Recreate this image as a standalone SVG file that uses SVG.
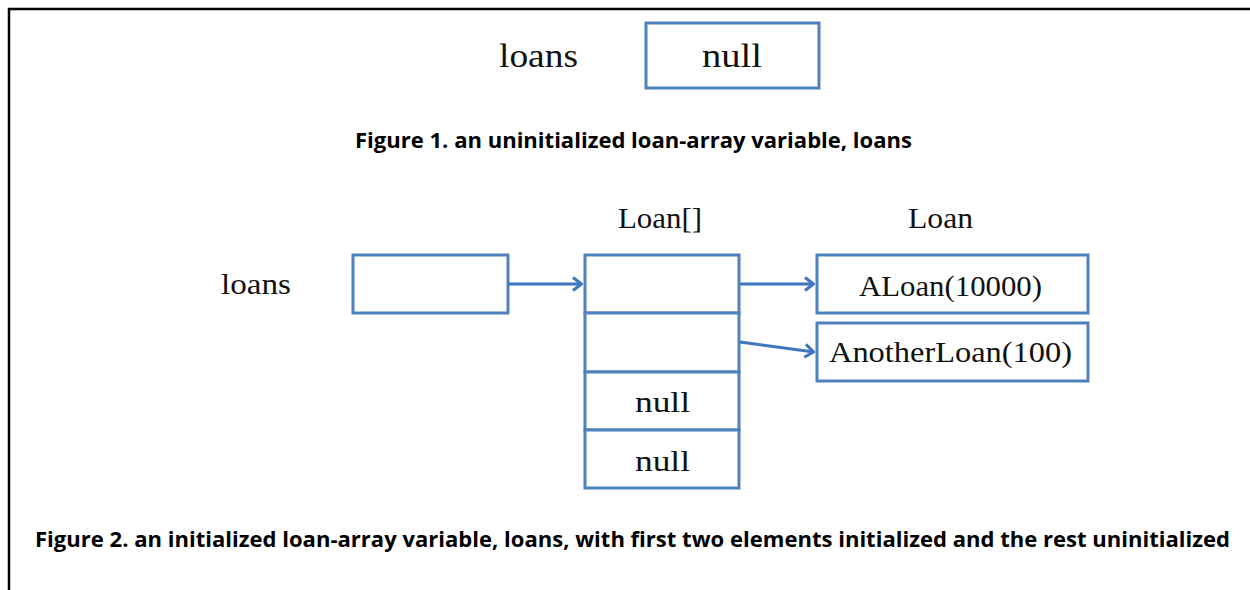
<svg xmlns="http://www.w3.org/2000/svg" width="1250" height="590" viewBox="0 0 1250 590">
<style>
.box{fill:#fff;stroke:#4f81bd;stroke-width:3}
.lbl{font-family:"Liberation Serif","Times New Roman",serif;fill:#111;text-anchor:middle}
.big{font-size:34px}
.sm{font-size:29.5px}
.cap{font-family:"Open Sans","Noto Sans",sans-serif;font-weight:bold;font-size:21px;fill:#000;text-anchor:middle}
.conn{stroke:#3d75bf;stroke-width:3;fill:none}
</style>
<defs>
<marker id="arr" viewBox="0 0 12 16" refX="11" refY="8" markerWidth="12" markerHeight="16" markerUnits="userSpaceOnUse" orient="auto">
<path d="M2,1.5 L10.5,8 L2,14.5" fill="none" stroke="#3d75bf" stroke-width="3" stroke-linejoin="miter"/>
</marker>
</defs>
<rect width="1250" height="590" fill="#fff"/>
<path d="M9,590 V9 H1250" fill="none" stroke="#000" stroke-width="2.5"/>

<g id="fig1-loans-label"><text class="lbl big" x="538.5" y="67" textLength="79" lengthAdjust="spacingAndGlyphs">loans</text></g>
<g id="fig1-loans-var"><rect class="box" x="646" y="23" width="173" height="65"/><text class="lbl big" x="732" y="67" textLength="60" lengthAdjust="spacingAndGlyphs">null</text></g>
<g id="caption1"><text class="cap" x="633.5" y="148" textLength="557" lengthAdjust="spacingAndGlyphs">Figure 1. an uninitialized loan-array variable, loans</text></g>

<g id="fig2-loans-label"><text class="lbl sm" x="256" y="294" textLength="70" lengthAdjust="spacingAndGlyphs">loans</text></g>
<g id="fig2-loans-var"><rect class="box" x="353" y="255" width="155" height="58"/></g>
<g id="array-header"><text class="lbl sm" x="660" y="228" textLength="84" lengthAdjust="spacingAndGlyphs">Loan[]</text></g>
<g id="loan-header"><text class="lbl sm" x="940.5" y="228" textLength="65" lengthAdjust="spacingAndGlyphs">Loan</text></g>
<g id="array">
<rect class="box" x="585" y="255" width="154" height="58"/>
<rect class="box" x="585" y="313" width="154" height="59"/>
<rect class="box" x="585" y="372" width="154" height="58"/>
<rect class="box" x="585" y="430" width="154" height="58"/>
<text class="lbl sm" x="662.5" y="412" textLength="55" lengthAdjust="spacingAndGlyphs">null</text>
<text class="lbl sm" x="662.5" y="471" textLength="55" lengthAdjust="spacingAndGlyphs">null</text>
</g>
<g id="aloan"><rect class="box" x="817" y="255" width="271" height="58"/><text class="lbl sm" x="950.5" y="296" textLength="183" lengthAdjust="spacingAndGlyphs">ALoan(10000)</text></g>
<g id="anotherloan"><rect class="box" x="817" y="323" width="271" height="58"/><text class="lbl sm" x="950.5" y="362" textLength="243" lengthAdjust="spacingAndGlyphs">AnotherLoan(100)</text></g>

<g id="connectors">
<line class="conn" x1="508" y1="284" x2="582" y2="284" marker-end="url(#arr)"/>
<line class="conn" x1="740" y1="284" x2="814" y2="284" marker-end="url(#arr)"/>
<line class="conn" x1="740" y1="342" x2="814" y2="352" marker-end="url(#arr)"/>
</g>
<g id="caption2"><text class="cap" x="632.5" y="547" textLength="1195" lengthAdjust="spacingAndGlyphs">Figure 2. an initialized loan-array variable, loans, with first two elements initialized and the rest uninitialized</text></g>
</svg>
